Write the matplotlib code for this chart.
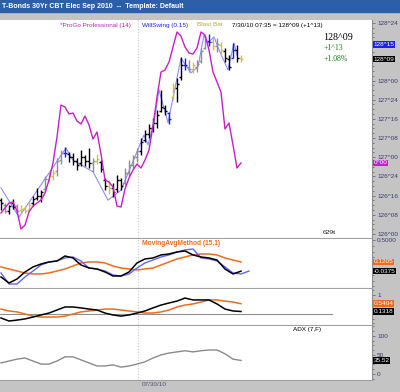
import numpy as np
import matplotlib
matplotlib.use("Agg")
import matplotlib.pyplot as plt
from matplotlib.ticker import FixedLocator, FuncFormatter, MultipleLocator
from matplotlib.patches import Rectangle

plt.rcParams['font.family'] = ['Liberation Sans', 'DejaVu Sans']

# ---- price bars, one per bar index ----
highs = [126.47, 126.40, 126.38, 126.46, 126.39, 126.38, 126.36, 126.42, 126.49, 126.60,
         126.57, 126.76, 126.81, 126.85, 126.99, 127.09, 127.13, 127.07, 127.05, 126.99,
         127.09, 127.03, 127.12, 126.99, 127.04, 126.96, 126.73, 126.70, 126.66, 126.77,
         126.73, 126.86, 126.96, 127.03, 127.12, 127.25, 127.36, 127.43, 127.51, 127.62,
         127.88, 127.68, 127.59, 127.97, 128.03, 128.31, 128.29, 128.27, 128.24, 128.27,
         128.42, 128.58, 128.61, 128.57, 128.55, 128.50, 128.42, 128.33, 128.49, 128.46,
         128.33]
lows = [126.31, 126.27, 126.26, 126.33, 126.26, 126.27, 126.27, 126.30, 126.36, 126.44,
        126.42, 126.55, 126.68, 126.70, 126.76, 126.91, 127.00, 126.94, 126.90, 126.83,
        126.89, 126.89, 126.86, 126.81, 126.91, 126.81, 126.57, 126.52, 126.48, 126.55,
        126.57, 126.64, 126.76, 126.86, 126.94, 127.03, 127.20, 127.25, 127.33, 127.38,
        127.59, 127.55, 127.43, 127.75, 127.72, 128.01, 128.14, 128.11, 128.10, 128.11,
        128.23, 128.41, 128.45, 128.40, 128.37, 128.33, 128.24, 128.14, 128.29, 128.24,
        128.24]
opens = [126.44, 126.38, 126.30, 126.40, 126.36, 126.31, 126.34, 126.31, 126.40, 126.47,
         126.50, 126.58, 126.72, 126.76, 126.82, 126.96, 127.06, 127.04, 127.00, 126.95,
         126.92, 127.00, 126.95, 126.92, 126.95, 126.94, 126.70, 126.62, 126.60, 126.58,
         126.70, 126.66, 126.80, 126.90, 127.00, 127.08, 127.22, 127.30, 127.38, 127.45,
         127.60, 127.64, 127.58, 127.78, 127.90, 128.05, 128.20, 128.18, 128.15, 128.18,
         128.25, 128.42, 128.52, 128.50, 128.45, 128.46, 128.38, 128.28, 128.30, 128.40,
         128.30]
closes = [126.40, 126.30, 126.36, 126.35, 126.30, 126.33, 126.30, 126.38, 126.45, 126.50,
          126.55, 126.72, 126.75, 126.80, 126.95, 127.05, 127.05, 127.00, 126.95, 126.90,
          127.00, 126.95, 126.92, 126.95, 126.98, 126.85, 126.62, 126.60, 126.55, 126.70,
          126.62, 126.80, 126.90, 127.00, 127.08, 127.20, 127.30, 127.38, 127.45, 127.55,
          127.65, 127.60, 127.50, 127.90, 127.95, 128.20, 128.20, 128.15, 128.20, 128.22,
          128.38, 128.52, 128.50, 128.45, 128.48, 128.40, 128.30, 128.18, 128.40, 128.30,
          128.28]
bar_kind = "kgkkgyyykk" "kgyyggbkkk" "kkkgykkykk" "kggggkkkkk" "kkbykkbgyg" "ggbygykkbk" "y"

# WillSwing zig-zag (bar index, price)
swing_idx = [0, 4.5, 16.25, 18, 23, 26.75, 30, 35.75, 36.75, 38.25, 39.5, 41.75,
             45, 47.5, 49.25, 50.75, 51.75, 53.25, 54.5, 56.75, 58.25, 59]
swing_px = [126.60, 126.22, 127.12, 126.96, 126.81, 126.44, 126.57, 127.29, 127.16, 127.45,
            127.88, 127.45, 128.29, 128.10, 128.18, 128.59, 128.49, 128.57, 128.40, 128.14,
            128.49, 128.33]

# ProGo Professional (own scale), one value per bar
progo = [-50, -45, -40, -39, -48, -66, -62, -49, -43, -40, -37, -30, -17, 0, 26, 58, 56, 49,
         50, 42, 39, 47, 38, 24, 31, 9, -17, -19, -24, -43, -44, -26, -15, -7, -1, -5, 3, 13,
         37, 66, 91, 93, 101, 116, 131, 127, 116, 110, 109, 115, 131, 128, 113, 91, 81, 71,
         34, 40, 18, -5, 0]

# lower panels, sampled every second bar
mam_black = [-0.138, -0.242, -0.173, -0.052, 0.035, 0.086, 0.121, 0.138, 0.224, 0.190, 0.069,
             0.017, 0.0, -0.052, -0.121, -0.121, -0.052, 0.104, 0.173, 0.190, 0.242, 0.259,
             0.293, 0.311, 0.242, 0.207, 0.190, 0.155, 0.0, -0.086, -0.0375]
mam_blue = [-0.069, -0.259, -0.259, -0.138, -0.035, 0.069, 0.121, 0.138, 0.190, 0.207, 0.138,
            0.017, 0.0, -0.035, -0.104, -0.121, -0.086, 0.017, 0.104, 0.155, 0.207, 0.242,
            0.293, 0.328, 0.345, 0.190, 0.173, 0.138, 0.035, -0.069, -0.086, -0.035]
mam_orange = [0.035, 0.0, -0.035, -0.069, -0.086, -0.086, -0.069, -0.035, 0.0, 0.052, 0.104,
              0.121, 0.121, 0.104, 0.052, 0.017, 0.0, -0.017, 0.0, 0.017, 0.069, 0.121, 0.173,
              0.207, 0.242, 0.259, 0.259, 0.242, 0.190, 0.155, 0.1205]
p3_black = [-0.21, -0.37, -0.32, -0.26, -0.16, -0.05, 0.05, 0.21, 0.37, 0.37, 0.32, 0.26, 0.21,
            0.05, -0.05, -0.11, -0.05, 0.05, 0.16, 0.32, 0.47, 0.58, 0.68, 0.84, 0.74, 0.74,
            0.74, 0.53, 0.26, 0.16, 0.1318]
p3_orange = [0.26, 0.16, 0.11, 0.0, -0.11, -0.16, -0.16, -0.16, -0.11, 0.0, 0.11, 0.16, 0.21,
             0.26, 0.26, 0.21, 0.16, 0.11, 0.05, 0.05, 0.11, 0.21, 0.37, 0.47, 0.53, 0.63,
             0.74, 0.74, 0.68, 0.63, 0.5404]
adx = [29, 34, 39, 42, 34, 26, 26, 34, 45, 45, 37, 29, 21, 21, 24, 18, 21, 26, 32, 42, 50, 55,
       58, 61, 58, 61, 63, 63, 53, 39, 35.52]

session_break = 34.25   # 07/30/10 starts here
price_ticks = [126.0, 126.25, 126.5, 126.75, 127.0, 127.25, 127.5, 127.75, 128.0, 128.75]

W, H = 400, 392
ORANGE = '#f26a1b'
TICKC = '#3c3c6a'

fig = plt.figure(figsize=(W / 100, H / 100), dpi=100, facecolor='#c4c4c4')


def box(y0, y1):
    return [0, 1 - y1 / H, 372 / W, (y1 - y0) / H]


def px(x, y):
    return x / W, 1 - y / H


ax1 = fig.add_axes(box(20, 238))
ax2 = fig.add_axes(box(239, 288))
ax3 = fig.add_axes(box(289, 325))
ax4 = fig.add_axes(box(326, 380))

# ProGo sits on its own hidden scale behind the price axis
axp = ax1.twinx()
axp.set_ylim(-75, 143)
axp.set_yticks([])
for s in axp.spines.values():
    s.set_visible(False)

for ax in (ax1, ax2, ax3, ax4):
    ax.set_xlim(-0.25, 92.75)
    ax.set_xticks([])
    ax.yaxis.tick_right()
    ax.tick_params(axis='y', which='both', direction='out', colors='#6a6a80',
                   labelcolor=TICKC, labelsize=4.6, pad=1.5, length=2.2, width=0.6,
                   left=False, labelleft=False, right=True, labelright=True)
    ax.tick_params(axis='y', which='minor', length=1.3)
    for s in ('left', 'top'):
        ax.spines[s].set_visible(False)
    ax.spines['bottom'].set_color('#a0a0a0')
    ax.spines['right'].set_color('#909090')
    ax.axvline(session_break, color='#c8c8c8', lw=0.8, ls=(0, (1, 1.5)), zorder=0)
axp.set_xlim(-0.25, 92.75)

# ---- main price panel ----
ax1.set_ylim(125.947, 128.789)
ax1.yaxis.set_major_locator(FixedLocator(price_ticks))
ax1.yaxis.set_minor_locator(MultipleLocator(1 / 16))
ax1.yaxis.set_major_formatter(FuncFormatter(lambda v, p: f"{int(v)}^{round((v % 1) * 32):02d}"))

idx = np.arange(len(highs))
cmap = {'k': '#000000', 'g': '#8e8e8e', 'y': '#c9c24a', 'b': '#1c1ce0'}
cols = [cmap[c] for c in bar_kind]
ax1.plot(swing_idx, swing_px, color='#8c8cff', lw=0.8, zorder=2)
ax1.vlines(idx, lows, highs, colors=cols, lw=1.0, zorder=3)
ax1.hlines(opens, idx - 0.45, idx, colors=cols, lw=1.0, zorder=3)
ax1.hlines(closes, idx, idx + 0.45, colors=cols, lw=1.0, zorder=3)

axp.plot(idx, progo, color='#c81ec8', lw=1.0, zorder=4)


def tag(ax, y, s, fc, tc='white'):
    ax.text(1.004, y, s, transform=ax.get_yaxis_transform(), fontsize=4.6, color=tc,
            va='center', ha='left', clip_on=False, zorder=10,
            bbox=dict(boxstyle='square,pad=0.12', fc=fc, ec='none'))


tag(ax1, 128 + 15 / 32, '128^15', '#1f1ff0')
tag(ax1, closes[-1], '128^09', '#000000')
tag(axp, progo[-1], '0^00', '#c81ec8')

fig.text(*px(60, 25), '*ProGo Professional (14)', color='#c020c0', fontsize=4.6, va='center')
fig.text(*px(142, 25), 'WillSwing (0.15)', color='#2020e0', fontsize=4.6, va='center')
fig.text(*px(197, 25), 'Blast Bar', color='#b8a830', fontsize=4.6, va='center')
fig.text(*px(232, 25), '7/30/10 07:35 = 128^09 (+1^13)', color='#000000', fontsize=4.6, va='center')
fig.text(*px(323, 37), '128^09', family='Liberation Serif', color='#000000', fontsize=7.2, va='center')
fig.text(*px(324, 48), '+1^13', family='Liberation Serif', color='#1a7a1a', fontsize=5.6, va='center')
fig.text(*px(324, 59), '+1.08%', family='Liberation Serif', color='#1a7a1a', fontsize=5.6, va='center')
fig.text(*px(323, 233), '629t', family='Liberation Serif', color='#000000', fontsize=5.4, va='center')

# ---- MovingAvgMethod panel ----
osc_idx = np.arange(0, 61, 2)
ax2.set_ylim(-0.328, 0.517)
ax2.yaxis.set_major_locator(FixedLocator([0.5]))
ax2.yaxis.set_minor_locator(MultipleLocator(0.1))
ax2.yaxis.set_major_formatter(FuncFormatter(lambda v, p: f"{v:.4f}"))
ax2.plot(osc_idx, mam_orange, color=ORANGE, lw=1.1)
ax2.plot(np.arange(0, 63, 2), mam_blue, color='#6464ff', lw=1.0)
ax2.plot(osc_idx, mam_black, color='#000000', lw=1.1)
tag(ax2, mam_orange[-1], '0.1205', ORANGE)
tag(ax2, mam_black[-1], '-0.0375', '#000000')
fig.text(*px(142, 243), 'MovingAvgMethod (15,1)', color=ORANGE, fontsize=4.8,
         fontweight='bold', va='center')

# ---- third panel ----
ax3.set_ylim(-0.579, 1.316)
ax3.yaxis.set_major_locator(FixedLocator([1]))
ax3.yaxis.set_minor_locator(MultipleLocator(0.25))
ax3.yaxis.set_major_formatter(FuncFormatter(lambda v, p: f"{v:g}"))
ax3.axhline(0, xmax=332 / 372, color='#909090', lw=0.8)
ax3.plot(osc_idx, p3_orange, color=ORANGE, lw=1.1)
ax3.plot(osc_idx, p3_black, color='#000000', lw=1.1)
tag(ax3, p3_orange[-1], '0.5404', ORANGE)
tag(ax3, p3_black[-1], '0.1318', '#000000')

# ---- ADX panel ----
ax4.set_ylim(-15.8, 126)
ax4.yaxis.set_major_locator(FixedLocator([0, 50, 100]))
ax4.yaxis.set_minor_locator(MultipleLocator(12.5))
ax4.yaxis.set_major_formatter(FuncFormatter(lambda v, p: f"{v:g}"))
ax4.plot(osc_idx, adx, color='#8a8a8a', lw=1.0)
tag(ax4, adx[-1], '35.52', '#000000')
fig.text(*px(293, 330), 'ADX (7,F)', color='#000000', fontsize=4.6, va='center')

# date label on the time strip
fig.text(*px(142, 385), '07/30/10', color='#50507a', fontsize=4.6, va='center')

# title bar
fig.patches.append(Rectangle((0, 1 - 12 / H), 1, 12 / H, transform=fig.transFigure,
                             color='#2d5ea8', zorder=0))
fig.text(*px(2, 6), 'T-Bonds 30Yr CBT Elec Sep 2010  --  Template: Default', color='white',
         fontsize=5.0, fontweight='bold', va='center')

fig.savefig('out.png', dpi=100, facecolor=fig.get_facecolor())
